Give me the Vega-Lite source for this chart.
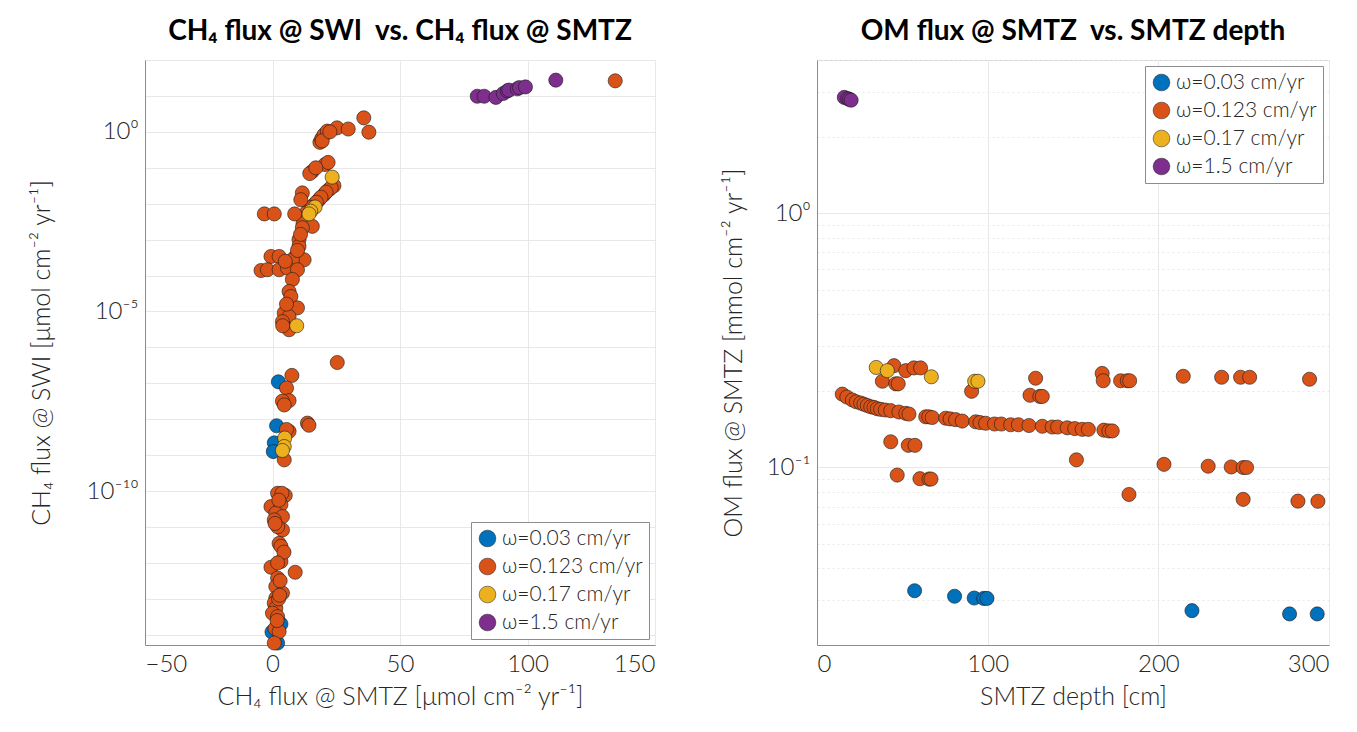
{
  "$schema": "https://vega.github.io/schema/vega-lite/v6.json",
  "padding": {"left": 28, "top": 17, "right": 5, "bottom": 5},
  "background": "white",
  "config": {
    "font": "Lato",
    "view": {"stroke": "#d4d4d4", "strokeWidth": 1},
    "axis": {
      "labelFont": "Lato", "labelFontSize": 24, "labelFontWeight": 300, "labelColor": "#262626",
      "titleFont": "Lato", "titleFontSize": 25, "titleFontWeight": 300, "titleColor": "#262626",
      "domainColor": "#8c8c8c", "gridColor": "#e8e8e8", "ticks": false, "labelPadding": 7
    },
    "title": {"font": "Lato", "fontSize": 28, "fontWeight": "bold", "color": "#000000", "offset": 14},
    "legend": {
      "labelFont": "Lato", "labelFontSize": 21, "labelFontWeight": 300, "labelColor": "#262626",
      "strokeColor": "#8c8c8c", "fillColor": "white", "padding": 6, "cornerRadius": 0,
      "symbolType": "circle", "symbolSize": 280, "symbolStrokeColor": "#1a1a1a", "symbolStrokeWidth": 0.5,
      "rowPadding": 6, "labelOffset": 4, "offset": 6, "title": null
    }
  },
  "datasets": {
    "a": [
      {"x": 2.3, "y": 1.1e-7, "w": "ω=0.03 cm/yr"},
      {"x": 1.6, "y": 6.6e-9, "w": "ω=0.03 cm/yr"},
      {"x": 0.7, "y": 2.2e-9, "w": "ω=0.03 cm/yr"},
      {"x": 0.3, "y": 1.26e-9, "w": "ω=0.03 cm/yr"},
      {"x": 3.3, "y": 2e-14, "w": "ω=0.03 cm/yr"},
      {"x": -0.2, "y": 1.2e-14, "w": "ω=0.03 cm/yr"},
      {"x": 2.0, "y": 5.9e-15, "w": "ω=0.03 cm/yr"},
      {"x": 134.4, "y": 26.3, "w": "ω=0.123 cm/yr"},
      {"x": 18.6, "y": 0.51, "w": "ω=0.123 cm/yr"},
      {"x": 19.3, "y": 0.65, "w": "ω=0.123 cm/yr"},
      {"x": 20.2, "y": 0.83, "w": "ω=0.123 cm/yr"},
      {"x": 21.5, "y": 1.05, "w": "ω=0.123 cm/yr"},
      {"x": 25.3, "y": 1.29, "w": "ω=0.123 cm/yr"},
      {"x": 29.7, "y": 1.2, "w": "ω=0.123 cm/yr"},
      {"x": 35.8, "y": 2.45, "w": "ω=0.123 cm/yr"},
      {"x": 37.8, "y": 0.98, "w": "ω=0.123 cm/yr"},
      {"x": 19.5, "y": 0.56, "w": "ω=0.123 cm/yr"},
      {"x": 22.5, "y": 1.0, "w": "ω=0.123 cm/yr"},
      {"x": 20.6, "y": 0.123, "w": "ω=0.123 cm/yr"},
      {"x": 15.6, "y": 0.079, "w": "ω=0.123 cm/yr"},
      {"x": 14.6, "y": 0.069, "w": "ω=0.123 cm/yr"},
      {"x": 21.8, "y": 0.141, "w": "ω=0.123 cm/yr"},
      {"x": 17.0, "y": 0.1, "w": "ω=0.123 cm/yr"},
      {"x": 24.1, "y": 0.0316, "w": "ω=0.123 cm/yr"},
      {"x": 22.1, "y": 0.0245, "w": "ω=0.123 cm/yr"},
      {"x": 20.2, "y": 0.0178, "w": "ω=0.123 cm/yr"},
      {"x": 18.2, "y": 0.0129, "w": "ω=0.123 cm/yr"},
      {"x": 16.3, "y": 0.0093, "w": "ω=0.123 cm/yr"},
      {"x": 14.3, "y": 0.0069, "w": "ω=0.123 cm/yr"},
      {"x": 23.0, "y": 0.028, "w": "ω=0.123 cm/yr"},
      {"x": 21.0, "y": 0.021, "w": "ω=0.123 cm/yr"},
      {"x": 19.0, "y": 0.0151, "w": "ω=0.123 cm/yr"},
      {"x": 17.2, "y": 0.011, "w": "ω=0.123 cm/yr"},
      {"x": 15.3, "y": 0.0079, "w": "ω=0.123 cm/yr"},
      {"x": 13.3, "y": 0.0056, "w": "ω=0.123 cm/yr"},
      {"x": 12.5, "y": 0.004, "w": "ω=0.123 cm/yr"},
      {"x": 11.7, "y": 0.02, "w": "ω=0.123 cm/yr"},
      {"x": 11.1, "y": 0.0129, "w": "ω=0.123 cm/yr"},
      {"x": 12.0, "y": 0.0028, "w": "ω=0.123 cm/yr"},
      {"x": -3.2, "y": 0.0052, "w": "ω=0.123 cm/yr"},
      {"x": 0.7, "y": 0.0052, "w": "ω=0.123 cm/yr"},
      {"x": 8.7, "y": 0.0052, "w": "ω=0.123 cm/yr"},
      {"x": 15.6, "y": 0.00234, "w": "ω=0.123 cm/yr"},
      {"x": 11.7, "y": 0.00214, "w": "ω=0.123 cm/yr"},
      {"x": 10.4, "y": 0.001, "w": "ω=0.123 cm/yr"},
      {"x": 10.4, "y": 0.00065, "w": "ω=0.123 cm/yr"},
      {"x": 9.1, "y": 0.00034, "w": "ω=0.123 cm/yr"},
      {"x": 12.4, "y": 0.000275, "w": "ω=0.123 cm/yr"},
      {"x": 7.8, "y": 0.000275, "w": "ω=0.123 cm/yr"},
      {"x": 11.0, "y": 0.0014, "w": "ω=0.123 cm/yr"},
      {"x": 9.8, "y": 0.0005, "w": "ω=0.123 cm/yr"},
      {"x": -0.6, "y": 0.00034, "w": "ω=0.123 cm/yr"},
      {"x": 2.6, "y": 0.00034, "w": "ω=0.123 cm/yr"},
      {"x": -4.5, "y": 0.000138, "w": "ω=0.123 cm/yr"},
      {"x": -2.0, "y": 0.000145, "w": "ω=0.123 cm/yr"},
      {"x": 2.6, "y": 0.000145, "w": "ω=0.123 cm/yr"},
      {"x": 5.9, "y": 0.00016, "w": "ω=0.123 cm/yr"},
      {"x": 9.8, "y": 0.000145, "w": "ω=0.123 cm/yr"},
      {"x": 5.0, "y": 0.00025, "w": "ω=0.123 cm/yr"},
      {"x": 7.8, "y": 7.8e-5, "w": "ω=0.123 cm/yr"},
      {"x": 6.5, "y": 3.6e-5, "w": "ω=0.123 cm/yr"},
      {"x": 7.2, "y": 2.6e-5, "w": "ω=0.123 cm/yr"},
      {"x": 9.8, "y": 1.26e-5, "w": "ω=0.123 cm/yr"},
      {"x": 4.6, "y": 9.1e-6, "w": "ω=0.123 cm/yr"},
      {"x": 6.5, "y": 7.2e-6, "w": "ω=0.123 cm/yr"},
      {"x": 3.9, "y": 5.2e-6, "w": "ω=0.123 cm/yr"},
      {"x": 6.5, "y": 3.1e-6, "w": "ω=0.123 cm/yr"},
      {"x": 5.5, "y": 1.6e-5, "w": "ω=0.123 cm/yr"},
      {"x": 4.0, "y": 4e-6, "w": "ω=0.123 cm/yr"},
      {"x": 25.4, "y": 3.8e-7, "w": "ω=0.123 cm/yr"},
      {"x": 7.6, "y": 1.66e-7, "w": "ω=0.123 cm/yr"},
      {"x": 5.5, "y": 7.4e-8, "w": "ω=0.123 cm/yr"},
      {"x": 6.5, "y": 3.3e-8, "w": "ω=0.123 cm/yr"},
      {"x": 3.9, "y": 3.2e-8, "w": "ω=0.123 cm/yr"},
      {"x": 4.6, "y": 2.5e-8, "w": "ω=0.123 cm/yr"},
      {"x": 6.5, "y": 4.6e-9, "w": "ω=0.123 cm/yr"},
      {"x": 13.7, "y": 7.8e-9, "w": "ω=0.123 cm/yr"},
      {"x": 14.3, "y": 6.8e-9, "w": "ω=0.123 cm/yr"},
      {"x": 5.5, "y": 5.2e-9, "w": "ω=0.123 cm/yr"},
      {"x": 4.6, "y": 7.4e-10, "w": "ω=0.123 cm/yr"},
      {"x": 2.0, "y": 8.7e-11, "w": "ω=0.123 cm/yr"},
      {"x": 5.0, "y": 7.6e-11, "w": "ω=0.123 cm/yr"},
      {"x": 3.7, "y": 8.7e-11, "w": "ω=0.123 cm/yr"},
      {"x": -0.6, "y": 3.7e-11, "w": "ω=0.123 cm/yr"},
      {"x": 3.3, "y": 4.2e-11, "w": "ω=0.123 cm/yr"},
      {"x": 1.3, "y": 2.45e-11, "w": "ω=0.123 cm/yr"},
      {"x": 3.9, "y": 1.95e-11, "w": "ω=0.123 cm/yr"},
      {"x": 0.7, "y": 1.58e-11, "w": "ω=0.123 cm/yr"},
      {"x": 3.9, "y": 8.3e-12, "w": "ω=0.123 cm/yr"},
      {"x": 2.0, "y": 1.02e-11, "w": "ω=0.123 cm/yr"},
      {"x": 2.6, "y": 3.5e-12, "w": "ω=0.123 cm/yr"},
      {"x": 3.3, "y": 2.9e-12, "w": "ω=0.123 cm/yr"},
      {"x": 3.3, "y": 1.1e-12, "w": "ω=0.123 cm/yr"},
      {"x": -0.6, "y": 7.6e-13, "w": "ω=0.123 cm/yr"},
      {"x": 8.9, "y": 5.5e-13, "w": "ω=0.123 cm/yr"},
      {"x": 2.0, "y": 3.8e-13, "w": "ω=0.123 cm/yr"},
      {"x": 1.3, "y": 2.2e-13, "w": "ω=0.123 cm/yr"},
      {"x": 3.9, "y": 1.45e-13, "w": "ω=0.123 cm/yr"},
      {"x": 1.3, "y": 1.05e-13, "w": "ω=0.123 cm/yr"},
      {"x": 0.7, "y": 7.6e-14, "w": "ω=0.123 cm/yr"},
      {"x": 1.3, "y": 5.5e-14, "w": "ω=0.123 cm/yr"},
      {"x": 0.0, "y": 4e-14, "w": "ω=0.123 cm/yr"},
      {"x": 2.0, "y": 3.2e-14, "w": "ω=0.123 cm/yr"},
      {"x": 1.0, "y": 1.5e-14, "w": "ω=0.123 cm/yr"},
      {"x": 2.6, "y": 1.23e-14, "w": "ω=0.123 cm/yr"},
      {"x": 0.7, "y": 5.9e-15, "w": "ω=0.123 cm/yr"},
      {"x": 2.5, "y": 5.6e-11, "w": "ω=0.123 cm/yr"},
      {"x": 1.0, "y": 1.26e-11, "w": "ω=0.123 cm/yr"},
      {"x": 4.5, "y": 2e-12, "w": "ω=0.123 cm/yr"},
      {"x": 2.0, "y": 1e-12, "w": "ω=0.123 cm/yr"},
      {"x": 3.0, "y": 3.2e-13, "w": "ω=0.123 cm/yr"},
      {"x": 2.4, "y": 1e-13, "w": "ω=0.123 cm/yr"},
      {"x": 1.8, "y": 2.5e-14, "w": "ω=0.123 cm/yr"},
      {"x": 2.8, "y": 1.26e-13, "w": "ω=0.123 cm/yr"},
      {"x": 23.4, "y": 0.055, "w": "ω=0.17 cm/yr"},
      {"x": 16.7, "y": 0.0081, "w": "ω=0.17 cm/yr"},
      {"x": 15.0, "y": 0.0062, "w": "ω=0.17 cm/yr"},
      {"x": 14.3, "y": 0.0052, "w": "ω=0.17 cm/yr"},
      {"x": 9.5, "y": 4e-6, "w": "ω=0.17 cm/yr"},
      {"x": 4.8, "y": 3e-9, "w": "ω=0.17 cm/yr"},
      {"x": 4.6, "y": 1.74e-9, "w": "ω=0.17 cm/yr"},
      {"x": 3.9, "y": 1.35e-9, "w": "ω=0.17 cm/yr"},
      {"x": 80.3, "y": 9.8, "w": "ω=1.5 cm/yr"},
      {"x": 83.0, "y": 9.8, "w": "ω=1.5 cm/yr"},
      {"x": 87.6, "y": 9.1, "w": "ω=1.5 cm/yr"},
      {"x": 90.5, "y": 11.7, "w": "ω=1.5 cm/yr"},
      {"x": 92.1, "y": 13.8, "w": "ω=1.5 cm/yr"},
      {"x": 92.7, "y": 14.5, "w": "ω=1.5 cm/yr"},
      {"x": 96.0, "y": 15.8, "w": "ω=1.5 cm/yr"},
      {"x": 96.8, "y": 17.0, "w": "ω=1.5 cm/yr"},
      {"x": 99.2, "y": 17.8, "w": "ω=1.5 cm/yr"},
      {"x": 111.1, "y": 27.5, "w": "ω=1.5 cm/yr"}
    ],
    "b": [
      {"x": 57.2, "y": 0.0327, "w": "ω=0.03 cm/yr"},
      {"x": 80.6, "y": 0.0311, "w": "ω=0.03 cm/yr"},
      {"x": 92.1, "y": 0.0306, "w": "ω=0.03 cm/yr"},
      {"x": 97.7, "y": 0.0305, "w": "ω=0.03 cm/yr"},
      {"x": 99.6, "y": 0.0305, "w": "ω=0.03 cm/yr"},
      {"x": 219.7, "y": 0.0273, "w": "ω=0.03 cm/yr"},
      {"x": 276.9, "y": 0.0265, "w": "ω=0.03 cm/yr"},
      {"x": 293.1, "y": 0.0265, "w": "ω=0.03 cm/yr"},
      {"x": 45.1, "y": 0.251, "w": "ω=0.123 cm/yr"},
      {"x": 52.0, "y": 0.240, "w": "ω=0.123 cm/yr"},
      {"x": 56.8, "y": 0.246, "w": "ω=0.123 cm/yr"},
      {"x": 60.7, "y": 0.246, "w": "ω=0.123 cm/yr"},
      {"x": 38.3, "y": 0.218, "w": "ω=0.123 cm/yr"},
      {"x": 46.1, "y": 0.213, "w": "ω=0.123 cm/yr"},
      {"x": 47.6, "y": 0.213, "w": "ω=0.123 cm/yr"},
      {"x": 90.6, "y": 0.199, "w": "ω=0.123 cm/yr"},
      {"x": 128.1, "y": 0.224, "w": "ω=0.123 cm/yr"},
      {"x": 124.8, "y": 0.192, "w": "ω=0.123 cm/yr"},
      {"x": 130.6, "y": 0.19, "w": "ω=0.123 cm/yr"},
      {"x": 132.0, "y": 0.19, "w": "ω=0.123 cm/yr"},
      {"x": 14.8, "y": 0.194, "w": "ω=0.123 cm/yr"},
      {"x": 17.5, "y": 0.189, "w": "ω=0.123 cm/yr"},
      {"x": 20.7, "y": 0.184, "w": "ω=0.123 cm/yr"},
      {"x": 23.0, "y": 0.181, "w": "ω=0.123 cm/yr"},
      {"x": 25.6, "y": 0.179, "w": "ω=0.123 cm/yr"},
      {"x": 27.5, "y": 0.177, "w": "ω=0.123 cm/yr"},
      {"x": 29.5, "y": 0.175, "w": "ω=0.123 cm/yr"},
      {"x": 31.5, "y": 0.173, "w": "ω=0.123 cm/yr"},
      {"x": 33.4, "y": 0.172, "w": "ω=0.123 cm/yr"},
      {"x": 35.3, "y": 0.170, "w": "ω=0.123 cm/yr"},
      {"x": 37.3, "y": 0.169, "w": "ω=0.123 cm/yr"},
      {"x": 40.0, "y": 0.168, "w": "ω=0.123 cm/yr"},
      {"x": 43.2, "y": 0.167, "w": "ω=0.123 cm/yr"},
      {"x": 48.0, "y": 0.165, "w": "ω=0.123 cm/yr"},
      {"x": 52.0, "y": 0.163, "w": "ω=0.123 cm/yr"},
      {"x": 53.9, "y": 0.162, "w": "ω=0.123 cm/yr"},
      {"x": 63.7, "y": 0.158, "w": "ω=0.123 cm/yr"},
      {"x": 65.5, "y": 0.158, "w": "ω=0.123 cm/yr"},
      {"x": 67.5, "y": 0.157, "w": "ω=0.123 cm/yr"},
      {"x": 75.4, "y": 0.156, "w": "ω=0.123 cm/yr"},
      {"x": 78.0, "y": 0.155, "w": "ω=0.123 cm/yr"},
      {"x": 81.2, "y": 0.154, "w": "ω=0.123 cm/yr"},
      {"x": 85.1, "y": 0.152, "w": "ω=0.123 cm/yr"},
      {"x": 93.0, "y": 0.151, "w": "ω=0.123 cm/yr"},
      {"x": 95.5, "y": 0.150, "w": "ω=0.123 cm/yr"},
      {"x": 98.8, "y": 0.149, "w": "ω=0.123 cm/yr"},
      {"x": 104.0, "y": 0.148, "w": "ω=0.123 cm/yr"},
      {"x": 108.0, "y": 0.148, "w": "ω=0.123 cm/yr"},
      {"x": 113.5, "y": 0.147, "w": "ω=0.123 cm/yr"},
      {"x": 118.0, "y": 0.147, "w": "ω=0.123 cm/yr"},
      {"x": 124.2, "y": 0.146, "w": "ω=0.123 cm/yr"},
      {"x": 132.0, "y": 0.145, "w": "ω=0.123 cm/yr"},
      {"x": 137.8, "y": 0.144, "w": "ω=0.123 cm/yr"},
      {"x": 141.0, "y": 0.144, "w": "ω=0.123 cm/yr"},
      {"x": 146.6, "y": 0.143, "w": "ω=0.123 cm/yr"},
      {"x": 151.0, "y": 0.142, "w": "ω=0.123 cm/yr"},
      {"x": 155.4, "y": 0.141, "w": "ω=0.123 cm/yr"},
      {"x": 159.0, "y": 0.141, "w": "ω=0.123 cm/yr"},
      {"x": 168.1, "y": 0.140, "w": "ω=0.123 cm/yr"},
      {"x": 171.0, "y": 0.139, "w": "ω=0.123 cm/yr"},
      {"x": 173.0, "y": 0.139, "w": "ω=0.123 cm/yr"},
      {"x": 43.2, "y": 0.126, "w": "ω=0.123 cm/yr"},
      {"x": 53.5, "y": 0.122, "w": "ω=0.123 cm/yr"},
      {"x": 57.4, "y": 0.122, "w": "ω=0.123 cm/yr"},
      {"x": 47.0, "y": 0.0932, "w": "ω=0.123 cm/yr"},
      {"x": 60.3, "y": 0.0902, "w": "ω=0.123 cm/yr"},
      {"x": 65.6, "y": 0.0899, "w": "ω=0.123 cm/yr"},
      {"x": 66.8, "y": 0.0899, "w": "ω=0.123 cm/yr"},
      {"x": 152.0, "y": 0.107, "w": "ω=0.123 cm/yr"},
      {"x": 167.1, "y": 0.234, "w": "ω=0.123 cm/yr"},
      {"x": 167.7, "y": 0.219, "w": "ω=0.123 cm/yr"},
      {"x": 177.9, "y": 0.219, "w": "ω=0.123 cm/yr"},
      {"x": 181.8, "y": 0.219, "w": "ω=0.123 cm/yr"},
      {"x": 183.2, "y": 0.219, "w": "ω=0.123 cm/yr"},
      {"x": 214.6, "y": 0.228, "w": "ω=0.123 cm/yr"},
      {"x": 237.1, "y": 0.226, "w": "ω=0.123 cm/yr"},
      {"x": 248.2, "y": 0.226, "w": "ω=0.123 cm/yr"},
      {"x": 253.5, "y": 0.226, "w": "ω=0.123 cm/yr"},
      {"x": 288.6, "y": 0.222, "w": "ω=0.123 cm/yr"},
      {"x": 203.3, "y": 0.1027, "w": "ω=0.123 cm/yr"},
      {"x": 229.2, "y": 0.101, "w": "ω=0.123 cm/yr"},
      {"x": 242.7, "y": 0.1003, "w": "ω=0.123 cm/yr"},
      {"x": 249.7, "y": 0.0998, "w": "ω=0.123 cm/yr"},
      {"x": 251.7, "y": 0.0998, "w": "ω=0.123 cm/yr"},
      {"x": 182.8, "y": 0.0782, "w": "ω=0.123 cm/yr"},
      {"x": 249.7, "y": 0.0748, "w": "ω=0.123 cm/yr"},
      {"x": 281.8, "y": 0.0736, "w": "ω=0.123 cm/yr"},
      {"x": 293.5, "y": 0.0735, "w": "ω=0.123 cm/yr"},
      {"x": 34.7, "y": 0.247, "w": "ω=0.17 cm/yr"},
      {"x": 41.2, "y": 0.240, "w": "ω=0.17 cm/yr"},
      {"x": 67.0, "y": 0.227, "w": "ω=0.17 cm/yr"},
      {"x": 92.4, "y": 0.218, "w": "ω=0.17 cm/yr"},
      {"x": 94.3, "y": 0.218, "w": "ω=0.17 cm/yr"},
      {"x": 16.0, "y": 2.85, "w": "ω=1.5 cm/yr"},
      {"x": 18.0, "y": 2.82, "w": "ω=1.5 cm/yr"},
      {"x": 19.0, "y": 2.80, "w": "ω=1.5 cm/yr"},
      {"x": 20.0, "y": 2.78, "w": "ω=1.5 cm/yr"}
    ]
  },
  "hconcat": [
    {
      "width": 510, "height": 585,
      "title": {"text": "CH₄ flux @ SWI \u00a0vs. CH₄ flux @ SMTZ"},
      "layer": [
        {
          "data": {"name": "a"},
          "mark": {"type": "circle", "size": 200, "opacity": 1, "stroke": "#1a1a1a", "strokeWidth": 0.6},
          "encoding": {
            "x": {"field": "x", "type": "quantitative", "scale": {"domain": [-50, 150], "nice": false, "zero": false},
              "axis": {"values": [-50, 0, 50, 100, 150], "title": "CH₄ flux @ SMTZ [μmol cm⁻² yr⁻¹]", "titlePadding": 8}},
            "y": {"field": "y", "type": "quantitative", "scale": {"type": "log", "domain": [5.2e-15, 100], "nice": false},
              "axis": {"values": [1e-14, 1e-13, 1e-12, 1e-11, 1e-10, 1e-9, 1e-8, 1e-7, 1e-6, 1e-5, 1e-4, 1e-3, 1e-2, 1e-1, 1, 10, 100],
                "labelExpr": "round(log(datum.value)/LN10) == 0 ? '10⁰' : round(log(datum.value)/LN10) == -5 ? '10⁻⁵' : round(log(datum.value)/LN10) == -10 ? '10⁻¹⁰' : ''",
                "title": "CH₄ flux @ SWI [μmol cm⁻² yr⁻¹]", "titlePadding": 32}},
            "color": {"field": "w", "type": "nominal",
              "scale": {"domain": ["ω=0.03 cm/yr", "ω=0.123 cm/yr", "ω=0.17 cm/yr", "ω=1.5 cm/yr"], "range": ["#0072BD", "#D95319", "#EDB120", "#7E2F8E"]},
              "legend": {"orient": "bottom-right"}}
          }
        },
        {
          "mark": {"type": "point", "shape": "M-0.75,-1L0.75,-1L0.75,1L-0.75,1Z", "size": 700, "filled": true, "fill": "white", "stroke": "#8c8c8c", "strokeWidth": 1, "opacity": 1},
          "encoding": {"x": {"datum": -42.7}, "y": {"datum": 4.1e-14}}
        },
        {
          "mark": {"type": "text", "text": "a", "font": "Lato", "fontSize": 21, "fontWeight": 300, "color": "#262626", "baseline": "middle", "align": "center"},
          "encoding": {"x": {"datum": -42.7}, "y": {"datum": 4.1e-14}}
        }
      ]
    },
    {
      "width": 512, "height": 585,
      "title": {"text": "OM flux @ SMTZ \u00a0vs. SMTZ depth"},
      "layer": [
        {
          "data": {"name": "b"},
          "mark": {"type": "circle", "size": 200, "opacity": 1, "stroke": "#1a1a1a", "strokeWidth": 0.6},
          "encoding": {
            "x": {"field": "x", "type": "quantitative", "scale": {"domain": [0, 300], "nice": false},
              "axis": {"values": [0, 100, 200, 300], "title": "SMTZ depth [cm]", "titlePadding": 8}},
            "y": {"field": "y", "type": "quantitative", "scale": {"type": "log", "domain": [0.02, 4], "nice": false},
              "axis": {"values": [0.02, 0.03, 0.04, 0.05, 0.06, 0.07, 0.08, 0.09, 0.1, 0.2, 0.3, 0.4, 0.5, 0.6, 0.7, 0.8, 0.9, 1, 2, 3, 4],
                "labelExpr": "datum.value == 1 ? '10⁰' : datum.value == 0.1 ? '10⁻¹' : ''",
                "gridDash": {"condition": {"test": "datum.value == 1 || datum.value == 0.1", "value": []}, "value": [2, 3]},
                "title": "OM flux @ SMTZ [mmol cm⁻² yr⁻¹]", "titlePadding": 20}},
            "color": {"field": "w", "type": "nominal",
              "scale": {"domain": ["ω=0.03 cm/yr", "ω=0.123 cm/yr", "ω=0.17 cm/yr", "ω=1.5 cm/yr"], "range": ["#0072BD", "#D95319", "#EDB120", "#7E2F8E"]},
              "legend": {"orient": "top-right"}}
          }
        },
        {
          "mark": {"type": "point", "shape": "M-0.75,-1L0.75,-1L0.75,1L-0.75,1Z", "size": 700, "filled": true, "fill": "white", "stroke": "#8c8c8c", "strokeWidth": 1, "opacity": 1},
          "encoding": {"x": {"datum": 16.4}, "y": {"datum": 0.0268}}
        },
        {
          "mark": {"type": "text", "text": "b", "font": "Lato", "fontSize": 21, "fontWeight": 300, "color": "#262626", "baseline": "middle", "align": "center"},
          "encoding": {"x": {"datum": 16.4}, "y": {"datum": 0.0268}}
        }
      ]
    }
  ],
  "spacing": 162,
  "bounds": "flush",
  "resolve": {"legend": {"color": "independent"}, "scale": {"color": "independent"}}
}
